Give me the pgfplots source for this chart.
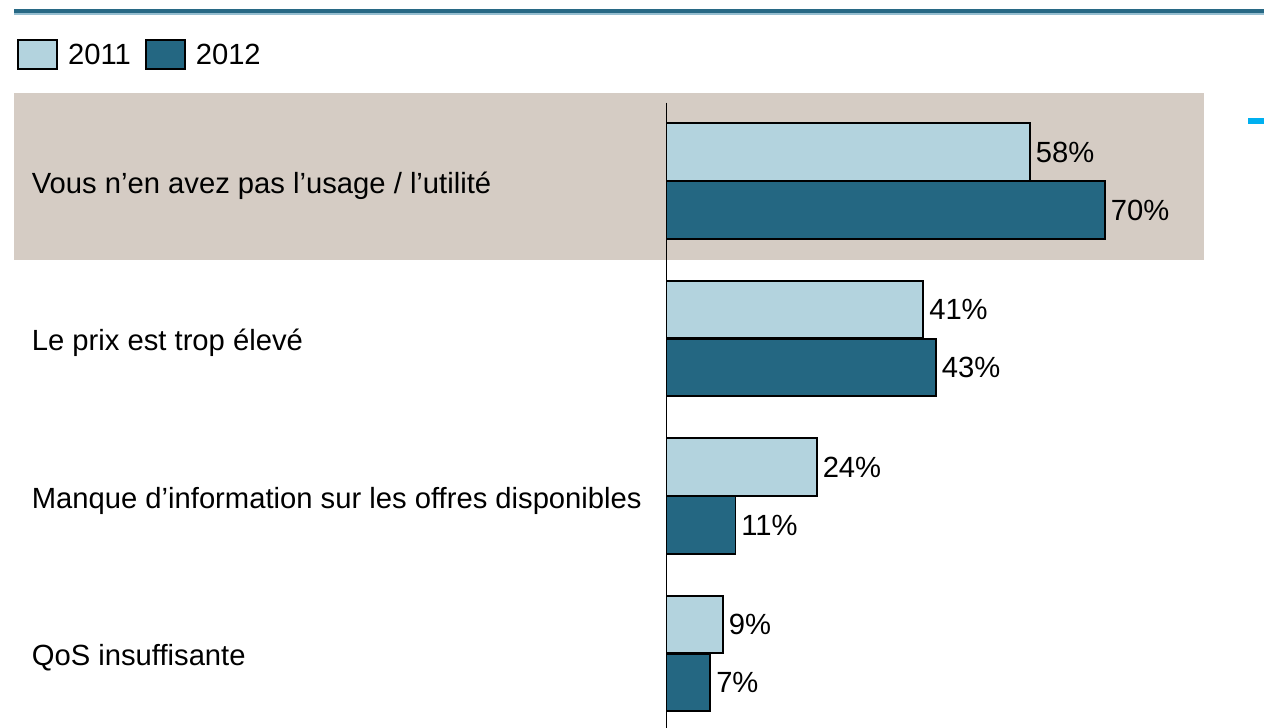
\documentclass[border=0pt]{standalone}
\usepackage{fontspec}
\setmainfont{Liberation Sans}
\usepackage{pgfplots}
\pgfplotsset{compat=1.18}
\definecolor{lightbar}{RGB}{179,211,222}
\definecolor{darkbar}{RGB}{36,103,130}
\definecolor{band}{RGB}{213,204,196}
\definecolor{topline}{RGB}{40,105,133}
\definecolor{toplight}{RGB}{150,190,208}
\definecolor{cyandash}{RGB}{0,176,240}
\begin{document}
\begin{tikzpicture}[x=0.5pt,y=-0.5pt]
\fill[white] (0,0) rectangle (1264,728);
\fill[band] (14,92.7) rectangle (1204,259.5);
\fill[topline] (14,9.3) rectangle (1264,13.3);
\fill[toplight] (14,13.3) rectangle (1264,14.7);
\fill[cyandash] (1248,118) rectangle (1264,124);
\draw[black, line width=0.9pt] (666.5,102.7) -- (666.5,728);
\begin{axis}[
  at={(0pt,-364pt)}, anchor=south west,
  scale only axis, width=632pt, height=364pt,
  xbar, y dir=reverse,
  xmin=-106.38, xmax=95.37, ymin=-1.1492, ymax=3.4730,
  axis line style={draw=none}, tick style={draw=none},
  xtick=\empty, ytick={0,1,2,3},
  yticklabels={{Vous n’en avez pas l’usage / l’utilité},{Le prix est trop élevé},{Manque d’information sur les offres disponibles},{QoS insuffisante}},
  yticklabel style={anchor=base west, inner sep=0pt, xshift=20pt, yshift=-6pt},
  font=\fontsize{14.6}{17.5}\selectfont,
  /pgf/number format/assume math mode=true,
  bar width=0.366,
  nodes near coords={\pgfmathprintnumber{\pgfplotspointmeta}\%},
  nodes near coords style={anchor=west, inner sep=2.5pt, black},
  legend columns=2,
  legend style={at={(0.01345,0.94643)}, anchor=north west, draw=none, fill=none, inner sep=0pt,
    nodes={inner sep=0pt},
    /tikz/every odd column/.append style={column sep=5pt},
    /tikz/every even column/.append style={column sep=7pt}},
  legend image code/.code={\draw[#1] (0pt,-6.75pt) rectangle (19.5pt,7.75pt);},
]
\addplot[fill=lightbar, draw=black, line width=0.9pt, bar shift=-0.1845] coordinates {(58,0) (41,1) (24,2) (9,3)};
\addplot[fill=darkbar, draw=black, line width=0.9pt, bar shift=0.1838] coordinates {(70,0) (43,1) (11,2) (7,3)};
\legend{2011,2012}
\end{axis}
\pgfresetboundingbox
\useasboundingbox (0,0) rectangle (1264,728);
\end{tikzpicture}
\end{document}
